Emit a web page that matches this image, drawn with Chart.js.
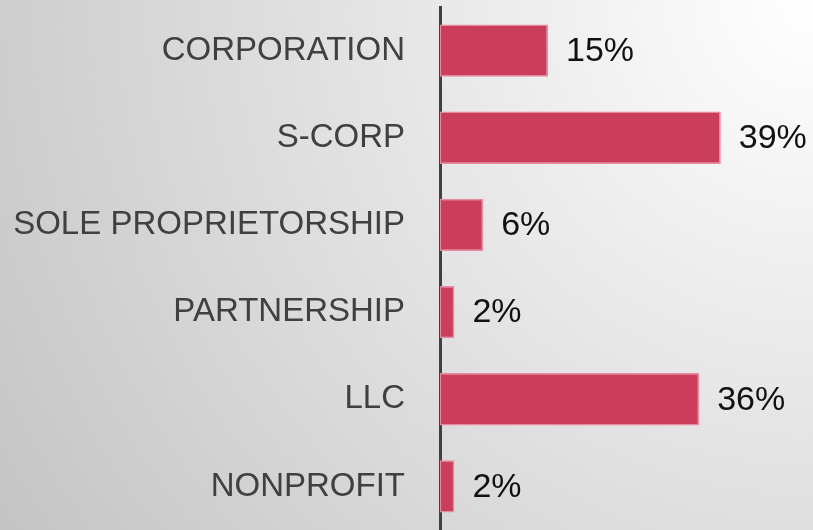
<!DOCTYPE html>
<html>
<head>
<meta charset="utf-8">
<script src="https://cdn.jsdelivr.net/npm/chart.js@4"></script>
<style>
  html, body { margin: 0; padding: 0; }
  #wrap {
    width: 813px;
    height: 530px;
    background: radial-gradient(circle farthest-corner at top right, #ffffff 0%, #c4c4c4 100%);
  }
</style>
</head>
<body>
<div id="wrap"><canvas id="mainChart" width="813" height="530"></canvas></div>
<script>
// categories and values (share of businesses, %)
const categories = ["CORPORATION", "S-CORP", "SOLE PROPRIETORSHIP", "PARTNERSHIP", "LLC", "NONPROFIT"];
const shares = [15, 39, 6, 2, 36, 2];
const shareLabels = ["15%", "39%", "6%", "2%", "36%", "2%"];

// value labels at the end of each bar
const valueLabelPlugin = {
  id: "valueLabels",
  afterDatasetsDraw(chart) {
    const { ctx } = chart;
    const meta = chart.getDatasetMeta(0);
    ctx.save();
    ctx.font = "34px 'Liberation Sans', Arial, sans-serif";
    ctx.fillStyle = "#111111";
    ctx.textAlign = "left";
    ctx.textBaseline = "middle";
    meta.data.forEach((bar, i) => {
      ctx.fillText(shareLabels[i], bar.x + 18, bar.y + 1);
    });
    ctx.restore();
  }
};

const ctx = document.getElementById("mainChart").getContext("2d");

new Chart(ctx, {
  type: "bar",
  data: {
    labels: categories,
    datasets: [{
      data: shares,
      backgroundColor: "#cc3d5c",
      borderColor: "#e88a9e",
      borderWidth: 1.5,
      borderSkipped: false,
      barPercentage: 0.6,
      categoryPercentage: 1
    }]
  },
  options: {
    indexAxis: "y",
    responsive: false,
    animation: false,
    layout: {
      padding: { top: 7, bottom: 0, left: 10, right: 13 }
    },
    plugins: {
      legend: { display: false },
      tooltip: { enabled: false }
    },
    scales: {
      x: {
        display: false,
        min: 0,
        max: 50
      },
      y: {
        grid: { display: false, drawTicks: false },
        border: { display: true, color: "#404040", width: 3 },
        afterFit(scale) {
          scale.width = 430;
          scale.paddingTop = 0;
          scale.paddingBottom = 0;
        },
        ticks: {
          padding: 35,
          color: "#404040",
          font: {
            size: 33,
            family: "'Liberation Sans', Arial, sans-serif"
          }
        }
      }
    }
  },
  plugins: [valueLabelPlugin]
});
</script>
</body>
</html>
